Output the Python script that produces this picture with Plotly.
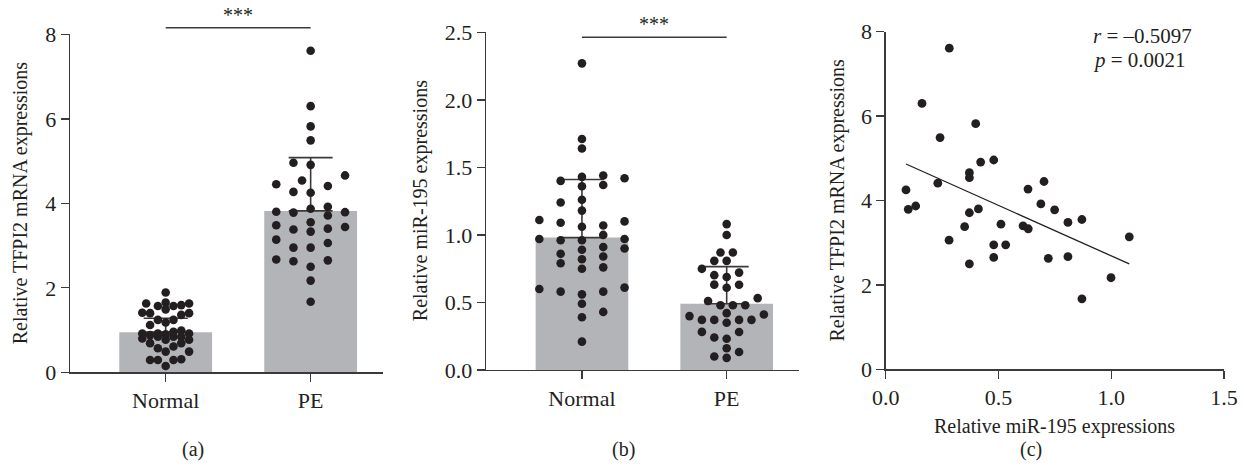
import numpy as np
import plotly.graph_objects as go

# ---------------- data ----------------
categories = ["Normal", "PE"]

# Panel (a): relative TFPI2 mRNA expression, Normal group
tfpi2_normal = [1.89, 1.63, 1.57, 1.63, 1.65, 1.59, 1.57, 1.49, 1.40, 1.40,
                1.36, 1.41, 1.24, 1.12, 1.24, 1.18, 0.99, 0.92, 0.96, 0.84,
                0.80, 0.84, 0.92, 0.84, 0.90, 0.77, 0.92, 0.88, 0.69, 0.61,
                0.69, 0.77, 0.57, 0.49, 0.49, 0.29, 0.29, 0.31, 0.29, 0.15]

# Panel (b): relative miR-195 expression, Normal group
mir195_normal = [2.27, 1.71, 1.64, 1.43, 1.42, 1.44, 1.40, 1.37, 1.36, 1.26,
                 1.24, 1.18, 1.11, 1.09, 1.10, 1.07, 1.06, 1.00, 0.97, 0.96,
                 0.96, 0.97, 0.91, 0.89, 0.90, 0.86, 0.84, 0.82, 0.79, 0.75,
                 0.76, 0.61, 0.60, 0.58, 0.56, 0.58, 0.49, 0.43, 0.39, 0.21]

# PE group (paired values, panel c): miR-195 and TFPI2
mir195_pe = [0.282, 0.161, 0.399, 0.241, 0.479, 0.421, 0.371, 0.371, 0.702, 0.231,
             0.090, 0.631, 0.688, 0.133, 0.100, 0.749, 0.411, 0.371, 0.870, 0.808,
             0.511, 0.609, 0.632, 0.350, 1.080, 0.281, 0.479, 0.532, 0.479, 0.721,
             0.808, 0.371, 0.999, 0.870]
tfpi2_pe = [7.61, 6.30, 5.82, 5.49, 4.96, 4.91, 4.66, 4.54, 4.45, 4.41,
            4.25, 4.27, 3.92, 3.87, 3.79, 3.78, 3.80, 3.71, 3.55, 3.48,
            3.44, 3.40, 3.33, 3.38, 3.14, 3.06, 2.95, 2.95, 2.65, 2.63,
            2.67, 2.50, 2.17, 1.67]

# bar heights (mean) and error (SD)
tfpi2_mean = [0.95, 3.82]
tfpi2_sd = [0.33, 1.26]
mir195_mean = [0.98, 0.49]
mir195_sd = [0.43, 0.275]

r_text = "<i>r</i> = –0.5097"
p_text = "<i>p</i> = 0.0021"
sig_text = "***"

yticks_a = [0, 2, 4, 6, 8]
yticks_b = [0, 0.5, 1.0, 1.5, 2.0, 2.5]
xticks_c = [0, 0.5, 1.0, 1.5]
yticks_c = [0, 2, 4, 6, 8]

# ---------------- style / layout ----------------
W, H = 1244, 468
FONT = "Liberation Serif"
TXT = "#231f20"
AX = "#3a3a3a"
BAR = "#b3b4b7"
DOT = "#231f20"

def px2x(px):
    return px / W

def px2y(py):
    return 1 - py / H

dom = {
    "a": dict(x=[px2x(70), px2x(382.7)], y=[px2y(372.3), px2y(34.3)], xr=[-0.660, 1.497], yr=[0, 8]),
    "b": dict(x=[px2x(486), px2x(799)], y=[px2y(370), px2y(32.3)], xr=[-0.663, 1.4997], yr=[0, 2.5]),
    "c": dict(x=[px2x(885.7), px2x(1224)], y=[px2y(369.3), px2y(31.7)], xr=[0, 1.5], yr=[0, 8]),
}

def scale(p):
    d = dom[p]
    sx = (d["x"][1] - d["x"][0]) * W / (d["xr"][1] - d["xr"][0])
    sy = (d["y"][1] - d["y"][0]) * H / (d["yr"][1] - d["yr"][0])
    return sx, sy

def to_paper(p, x, y):
    d = dom[p]
    px = d["x"][0] + (x - d["xr"][0]) / (d["xr"][1] - d["xr"][0]) * (d["x"][1] - d["x"][0])
    py = d["y"][0] + (y - d["yr"][0]) / (d["yr"][1] - d["yr"][0]) * (d["y"][1] - d["y"][0])
    return px, py

def swarm(values, panel, step, rx, ry, max_k):
    """Grid beeswarm: place each point at the column nearest the centre that
    does not collide with already placed points (elliptical footprint)."""
    sx, sy = scale(panel)
    vals = np.asarray(values, dtype=float)
    order = np.argsort(vals, kind="stable")
    placed = []
    offs = np.zeros(len(vals))
    for n, i in enumerate(order):
        y = vals[i] * sy
        chosen = None
        best, best_score = 0.0, None
        for k in range(0, max_k + 1):
            cands = [0] if k == 0 else ([k, -k] if n % 2 == 0 else [-k, k])
            for c in cands:
                x = c * step
                viol = [1 - (((x - qx) / rx) ** 2 + ((y - qy) / ry) ** 2) for qx, qy in placed]
                viol = [v for v in viol if v > 0]
                if not viol:
                    chosen = x
                    break
                score = sum(viol)
                if best_score is None or score < best_score:
                    best, best_score = x, score
            if chosen is not None:
                break
        if chosen is None:
            chosen = best
        placed.append((chosen, y))
        offs[i] = chosen / sx
    return offs

fig = go.Figure()

BARW = 0.64

def bar_panel(panel, xa, ya, means, sds, groups, params):
    fig.add_trace(go.Bar(
        x=[0, 1], y=means, width=BARW, marker=dict(color=BAR, line=dict(width=0)),
        error_y=dict(type="data", symmetric=False, array=sds, arrayminus=[0, 0],
                     color=AX, thickness=1.6, width=22),
        xaxis=xa, yaxis=ya, showlegend=False, hoverinfo="skip"))
    for gi, (vals, prm) in enumerate(zip(groups, params)):
        offs = swarm(vals, panel, *prm)
        fig.add_trace(go.Scatter(
            x=gi + offs, y=vals, mode="markers",
            marker=dict(size=8.6, color=DOT, line=dict(width=0)),
            xaxis=xa, yaxis=ya, showlegend=False, cliponaxis=False))

bar_panel("a", "x", "y", tfpi2_mean, tfpi2_sd, [tfpi2_normal, tfpi2_pe],
          [(3.9, 7.8, 10.0, 6), (8.6, 17.0, 13.0, 5)])
bar_panel("b", "x2", "y2", mir195_mean, mir195_sd, [mir195_normal, mir195_pe],
          [(21.3, 21.3, 9.0, 2), (6.2, 12.3, 9.0, 7)])

# Panel (c): scatter + regression line
fig.add_trace(go.Scatter(x=mir195_pe, y=tfpi2_pe, mode="markers",
                         marker=dict(size=8.8, color=DOT, line=dict(width=0)),
                         xaxis="x3", yaxis="y3", showlegend=False, cliponaxis=False))
slope, icpt = np.polyfit(mir195_pe, tfpi2_pe, 1)
xl = np.array([min(mir195_pe), max(mir195_pe)])
fig.add_trace(go.Scatter(x=xl, y=slope * xl + icpt, mode="lines",
                         line=dict(color=TXT, width=1.3),
                         xaxis="x3", yaxis="y3", showlegend=False, hoverinfo="skip"))

axis_common = dict(showline=True, linecolor=AX, linewidth=1.4, ticks="outside",
                   ticklen=8, tickwidth=1.4, tickcolor=AX, showgrid=False, zeroline=False,
                   automargin=False,
                   tickfont=dict(family=FONT, size=22, color=TXT))

layout = dict(width=W, height=H, autosize=False, margin=dict(l=0, r=0, t=0, b=0, pad=0),
              paper_bgcolor="white", plot_bgcolor="white", showlegend=False,
              font=dict(family=FONT, size=20, color=TXT))

for p, (xk, yk, xa_anchor, ya_anchor) in zip(
        ["a", "b", "c"],
        [("xaxis", "yaxis", "y", "x"), ("xaxis2", "yaxis2", "y2", "x2"), ("xaxis3", "yaxis3", "y3", "x3")]):
    d = dom[p]
    layout[xk] = dict(domain=d["x"], range=d["xr"], anchor=xa_anchor, **axis_common)
    layout[yk] = dict(domain=d["y"], range=d["yr"], anchor=ya_anchor, **axis_common)

layout["xaxis"].update(tickvals=[0, 1], ticktext=categories)
layout["xaxis2"].update(tickvals=[0, 1], ticktext=categories)
layout["yaxis"].update(tickvals=yticks_a)
layout["yaxis2"].update(tickvals=yticks_b, tickformat=".1f")
layout["xaxis3"].update(tickvals=xticks_c, tickformat=".1f")
layout["yaxis3"].update(tickvals=yticks_c)

fig.update_layout(**layout)

shapes = []
annotations = []

# significance bars
for p, ysig in [("a", 8.156), ("b", 2.463)]:
    x0, y0 = to_paper(p, 0, ysig)
    x1, _ = to_paper(p, 1, ysig)
    shapes.append(dict(type="line", xref="paper", yref="paper", x0=x0, x1=x1, y0=y0, y1=y0,
                       line=dict(color=AX, width=1.4)))
    annotations.append(dict(xref="paper", yref="paper", x=(x0 + x1) / 2, y=y0, text=sig_text,
                            showarrow=False, xanchor="center", yanchor="bottom",
                            font=dict(family=FONT, size=20, color=TXT)))

# y-axis titles
for p, xpx, txt in [("a", 20, "Relative TFPI2 mRNA expressions"),
                    ("b", 420, "Relative miR-195 expressions"),
                    ("c", 837, "Relative TFPI2 mRNA expressions")]:
    d = dom[p]
    annotations.append(dict(xref="paper", yref="paper", x=px2x(xpx), y=(d["y"][0] + d["y"][1]) / 2,
                            text=txt, textangle=-90, showarrow=False,
                            xanchor="center", yanchor="middle",
                            font=dict(family=FONT, size=20, color=TXT)))

# x-axis title for (c)
annotations.append(dict(xref="paper", yref="paper", x=(dom["c"]["x"][0] + dom["c"]["x"][1]) / 2,
                        y=px2y(426), text="Relative miR-195 expressions", showarrow=False,
                        xanchor="center", yanchor="middle",
                        font=dict(family=FONT, size=20, color=TXT)))

# panel labels
for xpx, lab in [(193, "(a)"), (623, "(b)"), (1031, "(c)")]:
    annotations.append(dict(xref="paper", yref="paper", x=px2x(xpx), y=px2y(449), text=lab,
                            showarrow=False, xanchor="center", yanchor="middle",
                            font=dict(family=FONT, size=20, color=TXT)))

# correlation statistics
for ypx, txt in [(36, r_text), (60, p_text)]:
    annotations.append(dict(xref="paper", yref="paper", x=px2x(1091), y=px2y(ypx), text=txt,
                            showarrow=False, xanchor="left", yanchor="middle",
                            font=dict(family=FONT, size=21, color=TXT)))

fig.update_layout(shapes=shapes, annotations=annotations)

fig.write_html("out.html",
               config={"displayModeBar": False, "staticPlot": True},
               post_script="document.body.style.margin='0px';document.body.style.overflow='hidden';")
